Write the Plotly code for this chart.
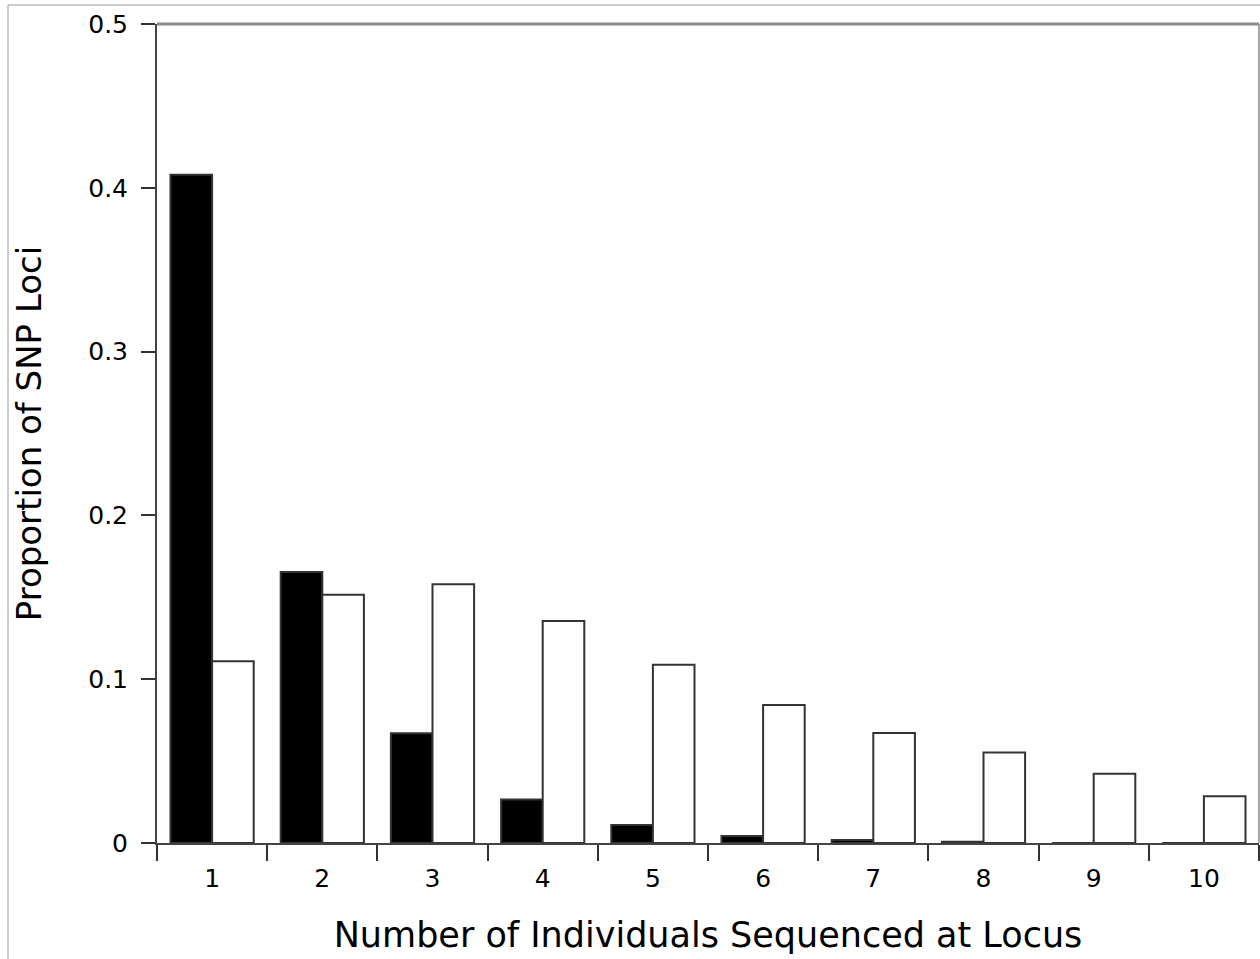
import plotly.graph_objects as go

categories = ["1", "2", "3", "4", "5", "6", "7", "8", "9", "10"]
black_values = [0.408, 0.1655, 0.067, 0.0265, 0.011, 0.0043, 0.0019, 0.0007, 0.0, 0.0]
white_values = [0.111, 0.1515, 0.158, 0.1355, 0.1088, 0.0842, 0.0672, 0.0552, 0.0423, 0.0285]
y_ticks = [0, 0.1, 0.2, 0.3, 0.4, 0.5]
y_tick_text = ["0", "0.1", "0.2", "0.3", "0.4", "0.5"]

FONT = "DejaVu Sans"

fig = go.Figure()
fig.add_trace(go.Bar(x=categories, y=black_values, marker=dict(color="black", line=dict(color="#333333", width=2)), name="black"))
fig.add_trace(go.Bar(x=categories, y=white_values, marker=dict(color="white", line=dict(color="#333333", width=2)), name="white"))

fig.update_layout(
    width=1260, height=959,
    margin=dict(l=157, r=1, t=24, b=116),
    paper_bgcolor="white", plot_bgcolor="white",
    barmode="group", bargap=0.245, bargroupgap=0,
    showlegend=False,
    font=dict(family=FONT, color="black"),
    xaxis=dict(
        type="category", range=[-0.5, 9.5], tickson="boundaries",
        ticks="outside", ticklen=16, tickwidth=1.5, tickcolor="#333333",
        showline=True, linecolor="#444444", linewidth=2,
        ticklabelstandoff=12,
        showgrid=False, tickfont=dict(size=25, family=FONT, color="black"),
        title=dict(text="Number of Individuals Sequenced at Locus", font=dict(size=35, family=FONT, color="black"), standoff=30),
    ),
    yaxis=dict(
        range=[0, 0.5], tickvals=y_ticks, ticktext=y_tick_text,
        ticks="outside", ticklen=14, tickwidth=1.5, tickcolor="#333333",
        showline=True, linecolor="#444444", linewidth=2,
        ticklabelstandoff=8,
        showgrid=False, zeroline=False, tickfont=dict(size=25, family=FONT, color="black"),
        title=dict(text="Proportion of SNP Loci", font=dict(size=34, family=FONT, color="black"), standoff=36),
    ),
    shapes=[
        dict(type="line", xref="paper", yref="paper", x0=0, x1=1, y0=1, y1=1, line=dict(color="#888888", width=3)),
        dict(type="line", xref="paper", yref="paper", x0=1, x1=1, y0=0, y1=1, line=dict(color="#888888", width=1.5)),
        dict(type="line", xref="paper", yref="paper", x0=-149/1102, x1=1.01, y0=1 + 19/819, y1=1 + 19/819, line=dict(color="#bbbbbb", width=1.5)),
        dict(type="line", xref="paper", yref="paper", x0=-149/1102, x1=-149/1102, y0=-0.2, y1=1 + 19/819, line=dict(color="#bbbbbb", width=1.5)),
    ],
)

fig.write_html("out.html")
